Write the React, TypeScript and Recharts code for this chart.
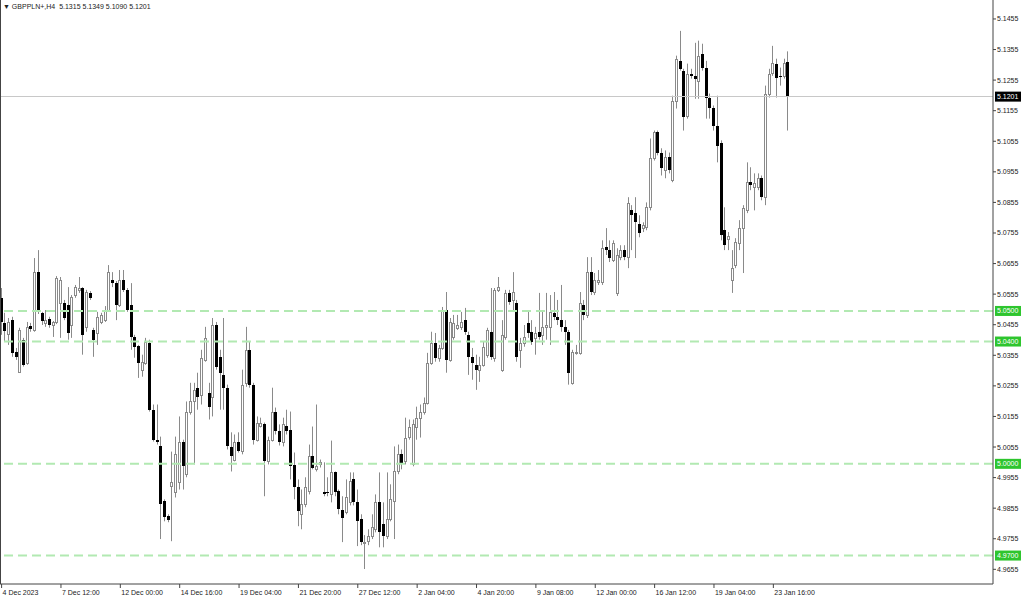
import React from "react";
import { ComposedChart, Bar, XAxis, YAxis, ReferenceLine } from "recharts";

// GBPPLN+ H4 candles, 4 Dec 2023 .. 23 Jan 2024
const opens = [
  5.0543, 5.0461, 5.0425, 5.0470, 5.0366, 5.0301, 5.0406, 5.0330, 5.0451, 5.0438,
  5.0627, 5.0494, 5.0461, 5.0474, 5.0454, 5.0464, 5.0526, 5.0526, 5.0520, 5.0454,
  5.0552, 5.0569, 5.0575, 5.0448, 5.0559, 5.0438, 5.0428, 5.0464, 5.0470, 5.0503,
  5.0601, 5.0591, 5.0520, 5.0601, 5.0569, 5.0520, 5.0415, 5.0386, 5.0308, 5.0330,
  5.0396, 5.0177, 5.0079, 5.0057, 4.9877, 4.9829, 4.9926, 4.9907, 4.9939, 5.0070,
  4.9966, 5.0171, 5.0204, 5.0249, 5.0226, 5.0340, 5.0233, 5.0220, 5.0454, 5.0350,
  5.0291, 5.0249, 5.0054, 5.0014, 5.0073, 5.0041, 5.0265, 5.0373, 5.0259, 5.0079,
  5.0125, 5.0129, 5.0008, 5.0079, 5.0168, 5.0109, 5.0070, 5.0125, 5.0112, 4.9995,
  4.9923, 4.9835, 4.9868, 4.9910, 5.0024, 4.9982, 4.9998, 4.9907, 4.9907, 4.9900,
  4.9972, 4.9910, 4.9848, 4.9842, 4.9874, 4.9949, 4.9874, 4.9818, 4.9741, 4.9747,
  4.9763, 4.9786, 4.9874, 4.9802, 4.9763, 4.9818, 4.9877, 4.9975, 5.0031, 5.0008,
  5.0089, 5.0001, 5.0119, 5.0151, 5.0168, 5.0200, 5.0330, 5.0396, 5.0347, 5.0379,
  5.0503, 5.0340, 5.0415, 5.0445, 5.0448, 5.0470, 5.0422, 5.0350, 5.0324, 5.0308,
  5.0324, 5.0357, 5.0432, 5.0347, 5.0569, 5.0308, 5.0415, 5.0559, 5.0536, 5.0526,
  5.0373, 5.0396, 5.0461, 5.0432, 5.0412, 5.0432, 5.0422, 5.0448, 5.0448, 5.0494,
  5.0481, 5.0470, 5.0448, 5.0432, 5.0265, 5.0363, 5.0363, 5.0520, 5.0487, 5.0627,
  5.0562, 5.0595, 5.0595, 5.0709, 5.0699, 5.0666, 5.0559, 5.0676, 5.0699, 5.0676,
  5.0829, 5.0820, 5.0784, 5.0771, 5.0774, 5.0839, 5.0999, 5.1084, 5.1018, 5.0960,
  5.1002, 5.0927, 5.1188, 5.1318, 5.1286, 5.1139, 5.1276, 5.1269, 5.1253, 5.1341,
  5.1295, 5.1198, 5.1165, 5.1106, 5.1048, 5.0764, 5.0735, 5.0601, 5.0650, 5.0722,
  5.0771, 5.0829, 5.0921, 5.0904, 5.0904, 5.0934, 5.0872, 5.1211, 5.1279, 5.1309,
  5.1269, 5.1269, 5.1315,
];

const highs = [
  5.0575, 5.0494, 5.0477, 5.0481, 5.0379, 5.0445, 5.0412, 5.0464, 5.0461, 5.0673,
  5.0699, 5.0497, 5.0503, 5.0481, 5.0467, 5.0614, 5.0611, 5.0536, 5.0578, 5.0552,
  5.0585, 5.0611, 5.0578, 5.0569, 5.0565, 5.0445, 5.0497, 5.0494, 5.0516, 5.0650,
  5.0627, 5.0598, 5.0634, 5.0634, 5.0575, 5.0591, 5.0422, 5.0389, 5.0357, 5.0412,
  5.0406, 5.0194, 5.0194, 5.0089, 4.9884, 4.9835, 5.0040, 5.0089, 5.0155, 5.0079,
  5.0204, 5.0265, 5.0265, 5.0298, 5.0373, 5.0448, 5.0265, 5.0477, 5.0464, 5.0373,
  5.0477, 5.0259, 5.0103, 5.0096, 5.0103, 5.0308, 5.0448, 5.0399, 5.0265, 5.0155,
  5.0151, 5.0135, 5.0089, 5.0249, 5.0184, 5.0129, 5.0151, 5.0177, 5.0171, 5.0037,
  4.9949, 4.9916, 4.9956, 5.0063, 5.0122, 5.0194, 5.0014, 5.0005, 4.9956, 5.0076,
  4.9975, 4.9916, 4.9894, 4.9949, 4.9972, 4.9972, 4.9916, 4.9835, 4.9767, 4.9786,
  4.9835, 4.9900, 4.9972, 4.9874, 4.9972, 4.9933, 5.0057, 5.0063, 5.0047, 5.0151,
  5.0145, 5.0145, 5.0187, 5.0194, 5.0217, 5.0363, 5.0432, 5.0428, 5.0389, 5.0513,
  5.0562, 5.0477, 5.0487, 5.0487, 5.0497, 5.0510, 5.0432, 5.0379, 5.0357, 5.0350,
  5.0399, 5.0445, 5.0575, 5.0575, 5.0611, 5.0470, 5.0569, 5.0569, 5.0627, 5.0536,
  5.0412, 5.0454, 5.0503, 5.0470, 5.0448, 5.0559, 5.0503, 5.0559, 5.0552, 5.0562,
  5.0536, 5.0585, 5.0470, 5.0438, 5.0373, 5.0389, 5.0562, 5.0536, 5.0676, 5.0676,
  5.0624, 5.0634, 5.0731, 5.0771, 5.0731, 5.0731, 5.0705, 5.0715, 5.0715, 5.0872,
  5.0846, 5.0872, 5.0813, 5.0790, 5.0855, 5.1064, 5.1090, 5.1090, 5.1032, 5.1025,
  5.1018, 5.1204, 5.1335, 5.1416, 5.1292, 5.1309, 5.1292, 5.1377, 5.1384, 5.1374,
  5.1318, 5.1211, 5.1172, 5.1204, 5.1058, 5.0839, 5.0758, 5.0699, 5.0738, 5.0797,
  5.0846, 5.0986, 5.0970, 5.0950, 5.0950, 5.0943, 5.1237, 5.1292, 5.1367, 5.1325,
  5.1296, 5.1325, 5.1349,
];

const lows = [
  5.0422, 5.0399, 5.0389, 5.0350, 5.0340, 5.0298, 5.0318, 5.0324, 5.0432, 5.0432,
  5.0490, 5.0454, 5.0448, 5.0445, 5.0415, 5.0457, 5.0412, 5.0470, 5.0406, 5.0412,
  5.0543, 5.0559, 5.0357, 5.0432, 5.0536, 5.0350, 5.0389, 5.0457, 5.0464, 5.0497,
  5.0578, 5.0470, 5.0513, 5.0562, 5.0497, 5.0373, 5.0347, 5.0281, 5.0285, 5.0324,
  5.0171, 5.0073, 5.0063, 4.9754, 4.9812, 4.9809, 4.9747, 4.9890, 4.9916, 4.9916,
  4.9956, 5.0161, 4.9998, 5.0177, 5.0194, 5.0334, 5.0145, 5.0155, 5.0308, 5.0177,
  5.0177, 5.0047, 4.9975, 5.0008, 5.0037, 5.0031, 5.0252, 5.0249, 5.0063, 5.0073,
  5.0119, 4.9894, 4.9998, 5.0073, 5.0096, 5.0060, 5.0057, 5.0096, 4.9949, 4.9884,
  4.9796, 4.9786, 4.9858, 4.9900, 4.9982, 4.9975, 4.9988, 4.9894, 4.9894, 4.9874,
  4.9894, 4.9835, 4.9744, 4.9835, 4.9864, 4.9864, 4.9731, 4.9734, 4.9656, 4.9734,
  4.9754, 4.9776, 4.9727, 4.9727, 4.9754, 4.9812, 4.9754, 4.9966, 4.9982, 4.9998,
  5.0079, 4.9992, 5.0079, 5.0086, 5.0161, 5.0194, 5.0324, 5.0334, 5.0334, 5.0373,
  5.0298, 5.0334, 5.0406, 5.0438, 5.0438, 5.0422, 5.0291, 5.0275, 5.0242, 5.0268,
  5.0318, 5.0347, 5.0340, 5.0334, 5.0562, 5.0301, 5.0406, 5.0520, 5.0503, 5.0334,
  5.0314, 5.0383, 5.0412, 5.0389, 5.0357, 5.0406, 5.0389, 5.0406, 5.0389, 5.0470,
  5.0454, 5.0432, 5.0389, 5.0259, 5.0259, 5.0357, 5.0357, 5.0470, 5.0477, 5.0552,
  5.0552, 5.0585, 5.0585, 5.0683, 5.0660, 5.0660, 5.0549, 5.0666, 5.0666, 5.0640,
  5.0699, 5.0673, 5.0741, 5.0758, 5.0764, 5.0829, 5.0992, 5.1009, 5.0943, 5.0934,
  5.0950, 5.0921, 5.1162, 5.1286, 5.1090, 5.1129, 5.1260, 5.1194, 5.1194, 5.1286,
  5.1129, 5.1129, 5.1090, 5.0986, 5.0731, 5.0699, 5.0699, 5.0559, 5.0640, 5.0699,
  5.0624, 5.0820, 5.0895, 5.0829, 5.0895, 5.0862, 5.0846, 5.1198, 5.1269, 5.1198,
  5.1237, 5.1260, 5.1090,
];

const closes = [
  5.0464, 5.0435, 5.0464, 5.0363, 5.0350, 5.0438, 5.0324, 5.0448, 5.0441, 5.0627,
  5.0497, 5.0467, 5.0470, 5.0454, 5.0464, 5.0608, 5.0601, 5.0477, 5.0428, 5.0546,
  5.0578, 5.0575, 5.0422, 5.0562, 5.0543, 5.0406, 5.0481, 5.0487, 5.0503, 5.0627,
  5.0591, 5.0520, 5.0601, 5.0569, 5.0503, 5.0415, 5.0383, 5.0330, 5.0334, 5.0399,
  5.0177, 5.0079, 5.0070, 4.9868, 4.9825, 4.9815, 4.9939, 5.0031, 5.0070, 4.9992,
  5.0171, 5.0204, 5.0243, 5.0220, 5.0347, 5.0412, 5.0187, 5.0454, 5.0318, 5.0298,
  5.0249, 5.0057, 5.0024, 5.0070, 5.0041, 5.0259, 5.0373, 5.0259, 5.0079, 5.0135,
  5.0135, 5.0008, 5.0079, 5.0168, 5.0106, 5.0070, 5.0129, 5.0106, 4.9992, 4.9923,
  4.9845, 4.9868, 4.9923, 5.0024, 4.9988, 4.9992, 5.0005, 4.9900, 4.9903, 4.9972,
  4.9907, 4.9851, 4.9822, 4.9890, 4.9943, 4.9874, 4.9812, 4.9744, 4.9744, 4.9763,
  4.9793, 4.9874, 4.9776, 4.9763, 4.9818, 4.9884, 4.9975, 5.0031, 4.9998, 5.0086,
  5.0119, 5.0129, 5.0151, 5.0171, 5.0200, 5.0330, 5.0396, 5.0347, 5.0379, 5.0503,
  5.0340, 5.0464, 5.0461, 5.0454, 5.0464, 5.0432, 5.0350, 5.0330, 5.0308, 5.0324,
  5.0383, 5.0438, 5.0350, 5.0569, 5.0578, 5.0422, 5.0559, 5.0530, 5.0562, 5.0350,
  5.0396, 5.0415, 5.0428, 5.0399, 5.0428, 5.0415, 5.0448, 5.0454, 5.0497, 5.0481,
  5.0470, 5.0448, 5.0432, 5.0298, 5.0366, 5.0366, 5.0526, 5.0487, 5.0627, 5.0562,
  5.0601, 5.0601, 5.0705, 5.0699, 5.0673, 5.0722, 5.0683, 5.0699, 5.0676, 5.0852,
  5.0813, 5.0790, 5.0754, 5.0780, 5.0839, 5.0999, 5.1084, 5.1018, 5.0966, 5.1002,
  5.0960, 5.1188, 5.1325, 5.1292, 5.1133, 5.1276, 5.1269, 5.1260, 5.1335, 5.1295,
  5.1198, 5.1165, 5.1106, 5.1041, 5.0748, 5.0715, 5.0745, 5.0640, 5.0725, 5.0771,
  5.0836, 5.0921, 5.0911, 5.0917, 5.0934, 5.0872, 5.1211, 5.1276, 5.1312, 5.1263,
  5.1266, 5.1312, 5.1201,
];

// time axis: bar index of each label + its text
const timeTickBars = [0, 16, 32, 48, 64, 80, 96, 112, 128, 144, 160, 176, 192, 208];
const timeTickLabels = [
  "4 Dec 2023", "7 Dec 12:00", "12 Dec 00:00", "14 Dec 16:00", "19 Dec 04:00",
  "21 Dec 20:00", "27 Dec 12:00", "2 Jan 04:00", "4 Jan 20:00", "9 Jan 08:00",
  "12 Jan 00:00", "16 Jan 12:00", "19 Jan 04:00", "23 Jan 16:00",
];

const priceTicks = [
  5.1455, 5.1355, 5.1255, 5.1155, 5.1055, 5.0955, 5.0855, 5.0755, 5.0655, 5.0555,
  5.0455, 5.0355, 5.0255, 5.0155, 5.0055, 4.9955, 4.9855, 4.9755, 4.9655,
];

const levels = [5.05, 5.04, 5.0, 4.97];
const symbol = "GBPPLN+,H4";

const FONT = "Arial, 'Liberation Sans', sans-serif";
const UP_LINE = "#8a8a8a";
const LEVEL_LINE = "#b2e9b2";
const LEVEL_BOX = "#2ec52e";

const bars = opens.map((o, i) => ({
  i,
  o,
  h: highs[i],
  l: lows[i],
  c: closes[i],
  range: [lows[i], highs[i]],
}));

const last = bars[bars.length - 1];

function Candle(props: any) {
  const { x, y, width, height, payload } = props;
  if (x == null || y == null) return null;
  const { o, h, l, c } = payload;
  const top = Math.min(y, y + height);
  const hgt = Math.abs(height);
  const span = h - l || 1e-9;
  const py = (v: number) => top + ((h - v) / span) * hgt;
  const cx = Math.floor(x + width / 2) + 0.5;
  const bTop = py(Math.max(o, c));
  const bBot = py(Math.min(o, c));
  const bull = c >= o;
  return (
    <g>
      <line x1={cx} x2={cx} y1={top} y2={top + hgt} stroke={UP_LINE} strokeWidth={1} />
      {bull ? (
        <rect
          x={cx - 1}
          y={Math.round(bTop) + 0.5}
          width={2}
          height={Math.max(1, Math.round(bBot) - Math.round(bTop))}
          fill="#ffffff"
          stroke={UP_LINE}
          strokeWidth={1}
        />
      ) : (
        <rect
          x={cx - 1.5}
          y={Math.round(bTop)}
          width={3}
          height={Math.max(1, Math.round(bBot) - Math.round(bTop))}
          fill="#000000"
        />
      )}
    </g>
  );
}

function TimeTick(props: any) {
  const { x, y, payload } = props;
  const k = timeTickBars.indexOf(payload.value);
  return (
    <text x={x + 1} y={y + 7} fontSize={7} fontFamily={FONT} fill="#222" textAnchor="start">
      {timeTickLabels[k]}
    </text>
  );
}

function PriceTick(props: any) {
  const { x, y, payload } = props;
  return (
    <text x={x} y={y + 2.5} fontSize={7} fontFamily={FONT} fill="#222" textAnchor="start">
      {payload.value.toFixed(4)}
    </text>
  );
}

function boxLabel(value: number, bg: string) {
  return (p: any) => {
    const vb = p.viewBox;
    if (!vb) return null;
    const x0 = vb.x + vb.width + 2;
    return (
      <g>
        <rect x={x0} y={vb.y - 5} width={26} height={10} fill={bg} />
        <text x={x0 + 2} y={vb.y + 2.5} fontSize={7} fontFamily={FONT} fill="#fff">
          {value.toFixed(4)}
        </text>
      </g>
    );
  };
}

export default function App() {
  return (
    <div style={{ position: "absolute", left: 0, top: 0, width: 1024, height: 599, background: "#fff" }}>
      <ComposedChart
        width={1024}
        height={599}
        data={bars}
        margin={{ top: 0, right: 0, bottom: 0, left: 0 }}
      >
        <XAxis
          dataKey="i"
          type="number"
          domain={[-0.43, 267.2]}
          allowDataOverflow
          ticks={timeTickBars}
          interval={0}
          height={15}
          tickSize={4}
          tickMargin={0}
          tick={<TimeTick />}
          axisLine={{ stroke: "#444" }}
          tickLine={{ stroke: "#444" }}
        />
        <YAxis
          orientation="right"
          type="number"
          domain={[4.9607, 5.1517]}
          allowDataOverflow
          ticks={priceTicks}
          interval={0}
          width={31}
          tickSize={3}
          tickMargin={1}
          tick={<PriceTick />}
          axisLine={{ stroke: "#444" }}
          tickLine={{ stroke: "#444" }}
        />
        {levels.map((v) => (
          <ReferenceLine
            key={v}
            y={v}
            stroke={LEVEL_LINE}
            strokeDasharray="9 5"
            strokeWidth={2}
            label={boxLabel(v, LEVEL_BOX)}
          />
        ))}
        <ReferenceLine
          y={last.c}
          stroke="#c8c8c8"
          strokeWidth={1}
          shapeRendering="crispEdges"
          label={boxLabel(last.c, "#000")}
        />
        <Bar dataKey="range" barSize={3} shape={<Candle />} isAnimationActive={false} />
      </ComposedChart>
      <div
        style={{
          position: "absolute",
          left: 0,
          top: 0,
          width: 993,
          height: 584,
          borderLeft: "1px solid #444",
          boxSizing: "border-box",
          pointerEvents: "none",
        }}
      />
      <div
        style={{
          position: "absolute",
          left: 3,
          top: 2,
          fontSize: 7,
          fontFamily: FONT,
          color: "#222",
          whiteSpace: "pre",
          lineHeight: "9px",
        }}
      >
        {"▼ " + symbol + "  " + [last.o, last.h, last.l, last.c].map((v) => v.toFixed(4)).join(" ")}
      </div>
    </div>
  );
}
